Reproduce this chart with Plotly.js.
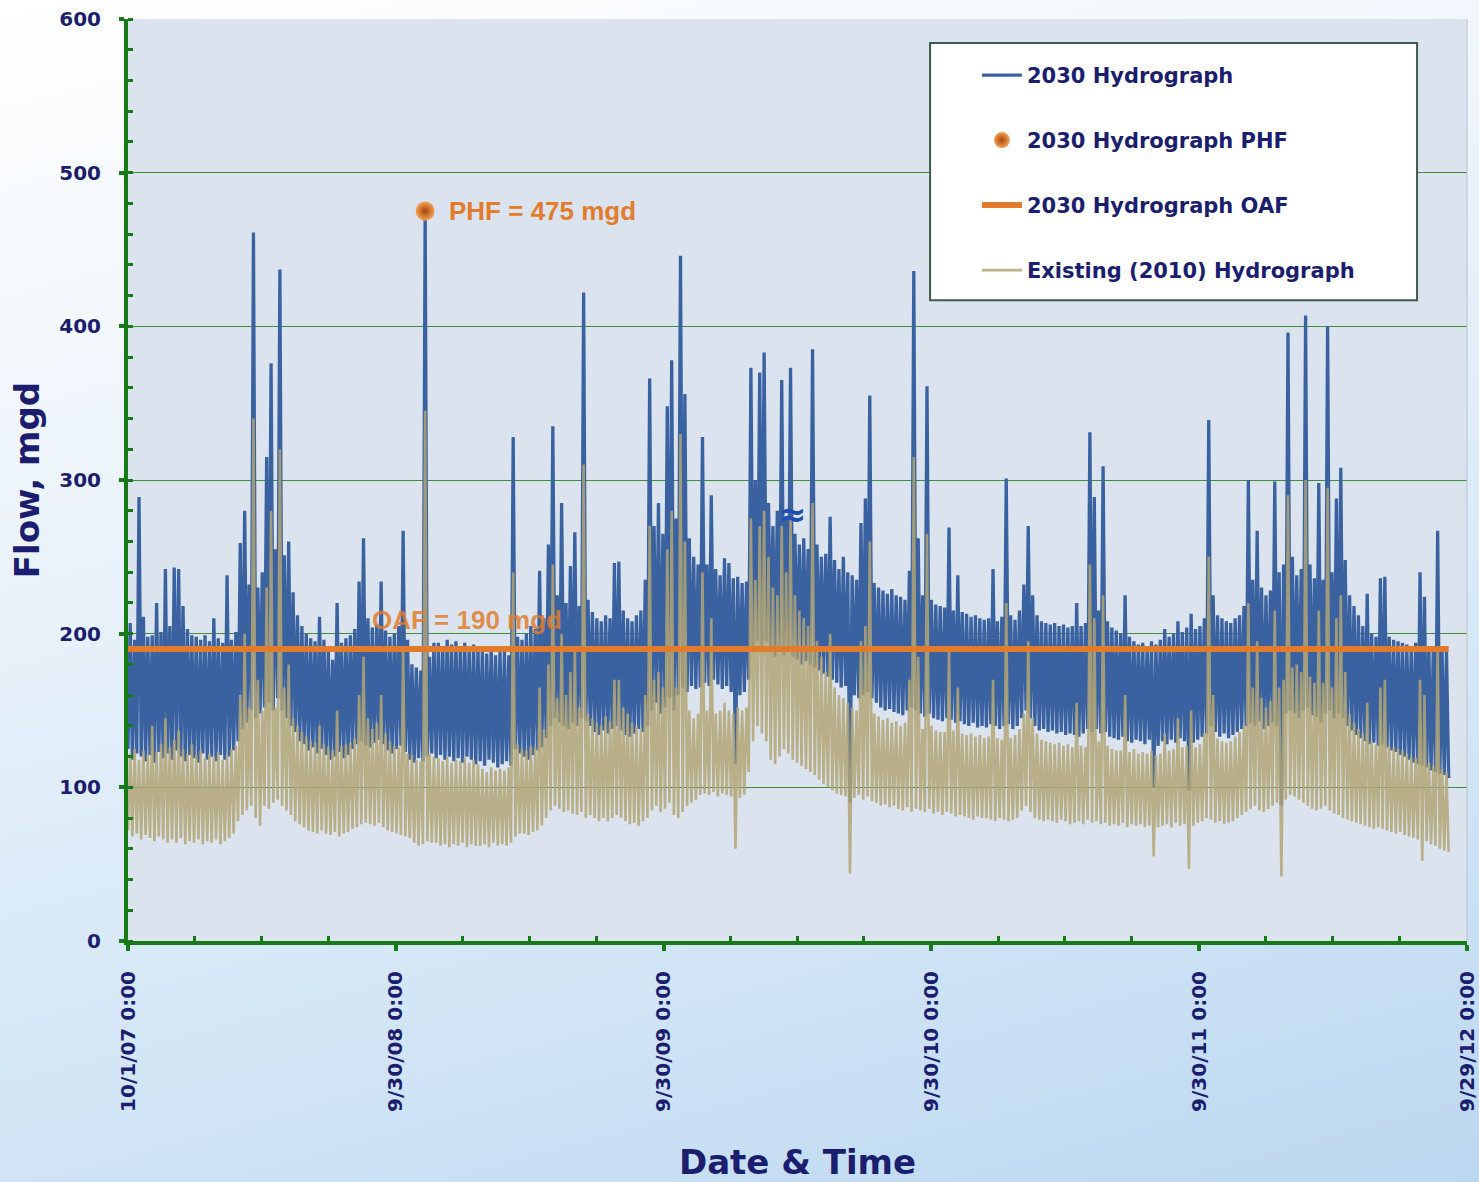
<!DOCTYPE html>
<html><head><meta charset="utf-8">
<script src="https://cdn.plot.ly/plotly-3.0.1.min.js"></script>
<style>
html,body{margin:0;padding:0;width:1479px;height:1182px;overflow:hidden;
background:linear-gradient(165deg,#ffffff 0%,#eef5fb 30%,#d3e6f6 70%,#bcd7f0 100%);}
#chart{width:1479px;height:1182px;}
</style></head><body><div id="chart"></div>
<script>
// sampling grid of the read-off values
const seriesStart = '2007-10-01';
const stepDays = 3;

// 2030 Hydrograph (mgd), alternating daily low / high
const flow2030 = [
125,207,118,196,122,289,120,211,117,198,
121,199,116,220,123,201,119,242,122,205,
118,243,124,242,120,218,117,203,121,199,
119,198,116,196,122,199,118,195,120,210,
117,197,121,194,118,238,120,196,124,201,
130,259,138,280,142,232,150,461,145,230,
148,240,152,315,155,376,150,255,158,437,
150,251,145,260,140,227,136,212,130,205,
128,200,124,197,126,195,122,211,125,196,
121,190,118,183,120,220,123,194,119,197,
121,199,125,203,128,234,130,262,127,210,
126,204,129,206,131,234,128,202,124,198,
122,200,125,205,127,267,123,196,118,180,
116,178,119,176,117,475,120,185,122,194,
119,194,121,192,118,196,120,193,117,195,
119,192,116,194,120,190,118,193,115,191,
117,190,114,187,118,192,116,186,113,189,
115,188,117,186,114,328,125,198,122,196,
120,200,118,205,121,203,124,241,126,210,
132,258,140,335,145,225,142,285,140,220,
138,244,142,266,140,218,145,422,143,222,
140,214,136,210,134,208,137,212,135,210,
138,246,140,247,137,215,134,210,133,208,
135,212,138,215,136,235,140,366,150,270,
155,285,148,265,152,348,158,378,150,275,
160,446,165,356,162,262,166,250,164,245,
165,328,168,245,166,290,170,242,167,238,
164,249,166,246,162,236,115,237,160,233,
162,234,170,373,190,300,195,370,192,383,
195,285,188,270,185,280,190,365,186,275,
190,373,185,265,183,258,180,262,182,255,
180,385,178,258,176,250,174,252,172,276,
170,248,168,242,165,250,166,240,90,238,
160,235,158,272,160,288,162,355,158,233,
155,230,152,228,150,226,151,229,149,225,
148,224,147,222,150,241,152,436,150,262,
148,225,146,361,148,222,145,219,144,218,
143,217,145,269,144,215,142,238,143,214,
141,213,140,211,142,212,139,210,140,209,
139,210,141,242,140,208,138,211,140,301,
141,212,138,209,140,215,145,232,150,270,
145,225,140,212,137,208,138,207,136,206,
137,207,135,205,136,206,134,204,135,205,
134,220,133,205,135,207,138,331,136,289,
138,215,135,309,136,208,133,204,132,202,
131,200,133,225,130,198,129,195,131,193,
130,194,128,192,131,195,100,193,127,196,
130,203,128,198,131,200,129,208,132,201,
130,204,98,213,129,203,131,205,133,210,
135,339,140,225,136,212,133,210,135,208,
132,207,134,210,136,212,138,218,140,300,
142,235,140,267,143,230,138,225,140,228,
142,299,140,240,88,245,148,396,150,250,
148,238,145,242,150,407,152,245,147,236,
146,298,142,235,148,400,150,240,145,288,
148,308,145,248,140,225,137,218,134,212,
132,205,130,226,128,200,129,198,127,236,
128,237,126,198,124,196,123,195,121,194,
120,193,118,192,116,194,115,240,114,224,
113,191,111,190,110,267,109,189,108,190,106
];

// Existing (2010) Hydrograph (mgd), same sampling
const flowExisting = [
72,122,68,125,70,118,66,124,69,121,
67,140,65,123,68,128,66,145,64,126,
66,131,64,137,67,125,63,122,65,128,
64,121,66,124,63,119,65,122,64,120,
66,123,63,118,65,121,67,125,70,127,
78,160,82,200,85,152,88,340,80,170,
75,150,88,230,86,280,90,152,92,320,
88,165,85,180,82,145,78,140,76,136,
74,133,72,130,71,129,70,140,72,128,
70,126,69,124,71,150,68,127,70,128,
71,129,73,132,74,160,76,185,77,145,
76,138,75,142,77,160,74,135,72,130,
71,127,70,126,69,190,68,122,67,121,
64,118,62,117,63,345,65,122,64,120,
64,119,62,117,63,120,61,116,63,118,
62,117,64,119,61,116,63,118,62,115,
62,112,63,110,61,113,64,111,62,112,
63,111,62,113,64,240,68,128,70,125,
70,124,69,127,71,126,72,165,75,138,
80,180,85,245,88,158,86,200,84,160,
85,175,83,190,82,152,84,310,80,148,
82,145,80,142,78,140,80,146,78,143,
80,170,82,170,80,152,78,148,76,142,
77,140,75,138,78,160,80,270,85,170,
88,175,84,165,86,255,90,280,82,165,
80,330,84,260,88,150,90,145,92,148,
95,240,96,150,95,210,97,148,94,150,
96,155,95,150,94,148,60,152,93,150,
95,152,110,275,130,235,140,270,135,280,
130,250,118,230,115,225,120,270,125,240,
122,275,118,225,116,215,114,210,112,205,
110,285,108,195,105,185,102,175,100,200,
98,165,96,160,95,158,94,155,44,152,
93,150,95,195,92,205,94,260,91,148,
90,146,88,144,89,145,87,142,88,143,
86,140,85,142,87,170,84,315,86,185,
85,138,84,265,86,140,83,137,84,136,
82,136,84,190,83,137,81,165,82,135,
81,134,80,135,79,133,81,134,80,132,
80,133,79,170,78,132,80,131,79,220,
78,132,79,134,80,138,85,148,88,195,
84,145,80,135,79,131,78,130,79,129,
78,128,77,129,79,127,78,128,76,126,
77,155,78,127,76,126,79,245,77,210,
78,130,76,225,77,127,75,125,76,124,
75,124,77,160,74,123,76,125,75,122,
76,123,74,122,75,124,55,121,74,122,
75,135,76,124,74,125,77,145,75,126,
76,127,47,150,75,126,77,128,78,135,
80,250,79,160,77,132,78,130,76,129,
77,130,78,133,80,136,82,140,84,220,
86,165,88,195,85,158,84,152,86,156,
88,215,90,165,42,170,92,290,95,178,
94,180,92,175,90,300,88,172,86,168,
85,215,86,168,88,295,85,165,83,210,
82,225,80,175,79,148,78,142,77,138,
76,135,75,155,74,130,73,128,74,165,
73,170,72,127,71,126,70,125,71,124,
69,122,68,120,67,119,66,170,52,160,
65,116,63,114,62,190,60,112,59,110,58
];

const oafValue = 190;
const oafDates = ['2007-10-01', '2012-09-04'];
const phfDate = '2008-11-09';
const phfValue = 475;

const seriesNames = ['2030 Hydrograph', '2030 Hydrograph PHF', '2030 Hydrograph OAF', 'Existing (2010) Hydrograph'];

const yTickVals = [0, 100, 200, 300, 400, 500, 600];
const xTickDates = ['2007-10-01', '2008-09-30', '2009-09-30', '2010-09-30', '2011-09-30', '2012-09-29'];
const xTickLabels = ['10/1/07 0:00', '9/30/08 0:00', '9/30/09 0:00', '9/30/10 0:00', '9/30/11 0:00', '9/29/12 0:00'];
const xMinorDates = ['2007-12-31', '2008-03-31', '2008-06-30', '2008-12-30', '2009-03-31', '2009-06-30',
  '2009-12-30', '2010-03-31', '2010-06-30', '2010-12-30', '2011-03-31', '2011-06-30',
  '2011-12-30', '2012-03-30', '2012-06-29'];

function dateAt(i) {
  const t = Date.parse(seriesStart + 'T00:00:00Z') + i * stepDays * 86400000;
  return new Date(t).toISOString().slice(0, 10);
}
const dates2030 = flow2030.map((v, i) => dateAt(i));
const datesExisting = flowExisting.map((v, i) => dateAt(i));

const navy = '#1b1d6e';
const green = '#167a16';
const orange = '#e27c2c';
const baseFont = {family: 'DejaVu Sans', color: navy, weight: 'bold'};

const traces = [
  {type: 'scatter', mode: 'lines', name: seriesNames[0], x: dates2030, y: flow2030,
   line: {color: '#3a62a0', width: 3.3, simplify: false}, legendrank: 1, legendgroup: 'a', hoverinfo: 'skip'},
  {type: 'scatter', mode: 'lines', name: seriesNames[3], x: datesExisting, y: flowExisting, opacity: 0.85,
   line: {color: '#b1a474', width: 2.6, simplify: false}, legendrank: 4, legendgroup: 'd', hoverinfo: 'skip'},
  {type: 'scatter', mode: 'lines', name: seriesNames[2], x: oafDates, y: oafDates.map(() => oafValue),
   line: {color: orange, width: 6}, legendrank: 3, legendgroup: 'c'},
  {type: 'scatter', mode: 'markers', name: seriesNames[1], x: [phfDate], y: [phfValue],
   marker: {size: 19, color: '#f7a055', gradient: {type: 'radial', color: '#a4450a'}, line: {width: 0}},
   legendrank: 2, legendgroup: 'b'}
];

const layout = {
  width: 1479, height: 1182,
  margin: {l: 128, r: 12, t: 19, b: 241, pad: 0},
  paper_bgcolor: 'rgba(0,0,0,0)',
  plot_bgcolor: '#dbe4ee',
  font: Object.assign({size: 20}, baseFont),
  showlegend: true,
  legend: {x: 0.634, y: 0.961, xanchor: 'left', yanchor: 'top', bgcolor: 'rgba(0,0,0,0)', borderwidth: 0,
           font: Object.assign({size: 21}, baseFont), tracegroupgap: 34.7, itemwidth: 40},
  xaxis: {
    type: 'date', range: ['2007-10-01', '2012-09-29'],
    tickmode: 'array', tickvals: xTickDates, ticktext: xTickLabels, tickangle: -90,
    ticks: 'outside', ticklen: 6, tickwidth: 4, tickcolor: green,
    showline: true, linecolor: green, linewidth: 4, showgrid: false, zeroline: false,
    tickfont: Object.assign({size: 20}, baseFont), ticklabelstandoff: 12,
    minor: {tickmode: 'array', tickvals: xMinorDates, ticks: 'inside', ticklen: 5, tickwidth: 3, tickcolor: green, showgrid: false},
    title: {text: 'Date & Time', font: Object.assign({size: 34}, baseFont), standoff: 42}
  },
  yaxis: {
    range: [0, 600], tickmode: 'array', tickvals: yTickVals,
    ticks: 'outside', ticklen: 5, tickwidth: 4, tickcolor: green,
    showline: true, linecolor: green, linewidth: 4,
    showgrid: true, gridcolor: '#3e8e3e', gridwidth: 1, zeroline: false,
    tickfont: Object.assign({size: 20}, baseFont), ticklabelstandoff: 14,
    minor: {tick0: 0, dtick: 20, ticks: 'inside', ticklen: 5, tickwidth: 3, tickcolor: green, showgrid: false},
    title: {text: 'Flow, mgd', font: Object.assign({size: 34}, baseFont), standoff: 10}
  },
  shapes: [
    {type: 'line', xref: 'paper', yref: 'paper', x0: 1, x1: 1, y0: 0, y1: 1, line: {color: '#b9c3cc', width: 1}},
    {type: 'rect', xref: 'paper', yref: 'paper', x0: 0.599, x1: 0.9627, y0: 0.695, y1: 0.974,
     fillcolor: '#ffffff', line: {color: '#3f5a4c', width: 2}, layer: 'above'}
  ],
  annotations: [
    {xref: 'x', yref: 'y', x: phfDate, y: phfValue, text: 'PHF = 475 mgd', showarrow: false,
     xanchor: 'left', yanchor: 'middle', xshift: 22,
     font: {family: 'Liberation Sans', size: 26, weight: 'bold', color: orange}},
    {xref: 'paper', yref: 'y', x: 0.1807, y: 209, text: 'OAF = 190 mgd', showarrow: false,
     xanchor: 'left', yanchor: 'middle',
     font: {family: 'Liberation Sans', size: 26, weight: 'bold', color: 'rgba(226,124,44,0.85)'}},
    {xref: 'paper', yref: 'y', x: 0.496, y: 278, text: '≈', showarrow: false,
     font: {family: 'DejaVu Sans', size: 34, weight: 'bold', color: '#1f4fb0'}}
  ]
};

Plotly.newPlot('chart', traces, layout, {displayModeBar: false, staticPlot: true});
</script>
</body></html>
